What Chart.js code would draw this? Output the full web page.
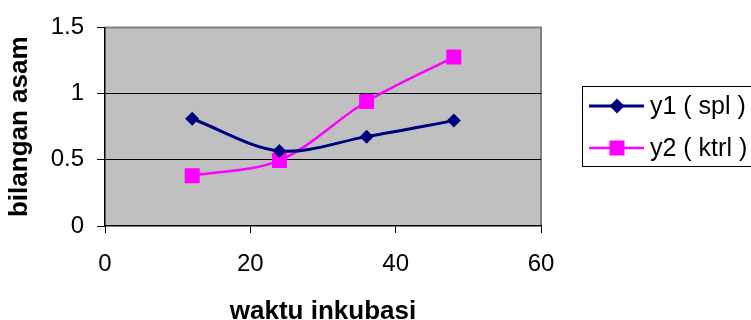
<!DOCTYPE html>
<html>
<head>
<meta charset="utf-8">
<script src="https://cdn.jsdelivr.net/npm/chart.js@4/dist/chart.umd.min.js"></script>
<style>
  html, body { margin: 0; padding: 0; background: #ffffff; }
  canvas { display: block; }
</style>
</head>
<body>
<canvas id="c" width="751" height="320"></canvas>
<script>
// Incubation time (hours) and acid number for the two samples
const waktu = [12, 24, 36, 48];
const y1Spl = [0.81, 0.567, 0.675, 0.796];
const y2Ktrl = [0.38, 0.495, 0.94, 1.276];
const seriesNames = ['y1 ( spl )', 'y2 ( ktrl )'];
const xTicks = [0, 20, 40, 60];
const yTicks = [0, 0.5, 1, 1.5];

const FONT = "'Liberation Sans', Arial, sans-serif";

const toPoints = (ys) => waktu.map((x, i) => ({ x: x, y: ys[i] }));

// Grey plot area with a darker frame on the top and right edges
const plotArea = {
  id: 'plotArea',
  beforeDraw(chart) {
    const { ctx, chartArea: a } = chart;
    ctx.save();
    ctx.fillStyle = '#c0c0c0';
    ctx.fillRect(a.left, a.top, a.right - a.left, a.bottom - a.top);
    ctx.strokeStyle = '#808080';
    ctx.lineWidth = 2;
    ctx.beginPath();
    ctx.moveTo(a.left, a.top);
    ctx.lineTo(a.right, a.top);
    ctx.lineTo(a.right, a.bottom);
    ctx.stroke();
    ctx.restore();
  }
};

// Boxed legend on the right, built from the dataset styles
const boxLegend = {
  id: 'boxLegend',
  afterDraw(chart) {
    const { ctx } = chart;
    const left = 582, top = 86, bottom = 166, right = 760;
    ctx.save();
    ctx.strokeStyle = '#000000';
    ctx.lineWidth = 1;
    ctx.strokeRect(left + 0.5, top + 0.5, right - left, bottom - top);
    const rows = [106, 148];
    chart.data.datasets.forEach((ds, i) => {
      const y = rows[i];
      ctx.strokeStyle = ds.borderColor;
      ctx.lineWidth = ds.borderWidth;
      ctx.beginPath();
      ctx.moveTo(589, y);
      ctx.lineTo(644, y);
      ctx.stroke();
      ctx.fillStyle = ds.pointBackgroundColor;
      ctx.beginPath();
      if (ds.pointStyle === 'rectRot') {
        const r = 7.5;
        ctx.moveTo(617 - r, y);
        ctx.lineTo(617, y - r);
        ctx.lineTo(617 + r, y);
        ctx.lineTo(617, y + r);
        ctx.closePath();
      } else {
        ctx.rect(617 - 7.5, y - 7.5, 15, 15);
      }
      ctx.fill();
      ctx.fillStyle = '#000000';
      ctx.font = '25px ' + FONT;
      ctx.textAlign = 'left';
      ctx.textBaseline = 'middle';
      ctx.fillText(ds.label, 650, y + 1);
    });
    ctx.restore();
  }
};

new Chart(document.getElementById('c'), {
  type: 'line',
  data: {
    datasets: [
      {
        label: seriesNames[0],
        data: toPoints(y1Spl),
        borderColor: '#000080',
        backgroundColor: '#000080',
        pointBackgroundColor: '#000080',
        pointBorderColor: '#000080',
        borderWidth: 3,
        pointStyle: 'rectRot',
        pointRadius: 7,
        pointHoverRadius: 7,
        pointBorderWidth: 0,
        tension: 0.33,
        fill: false
      },
      {
        label: seriesNames[1],
        data: toPoints(y2Ktrl),
        borderColor: '#ff00ff',
        backgroundColor: '#ff00ff',
        pointBackgroundColor: '#ff00ff',
        pointBorderColor: '#ff00ff',
        borderWidth: 2.5,
        pointStyle: 'rect',
        pointRadius: 10.6,
        pointHoverRadius: 10.6,
        pointBorderWidth: 0,
        tension: 0.33,
        fill: false
      }
    ]
  },
  options: {
    responsive: false,
    animation: false,
    events: [],
    layout: { padding: { left: 0, top: 25, right: 210, bottom: 0 } },
    plugins: {
      legend: { display: false },
      tooltip: { enabled: false }
    },
    scales: {
      x: {
        type: 'linear',
        min: 0,
        max: 60,
        afterFit(scale) { scale.height = 94; },
        afterBuildTicks(scale) { scale.ticks = xTicks.map(v => ({ value: v })); },
        ticks: {
          font: { family: FONT, size: 24 },
          color: '#000000',
          padding: 17,
          maxRotation: 0,
          callback: (v) => String(v)
        },
        grid: {
          drawOnChartArea: false,
          tickLength: 7,
          tickColor: '#000000',
          color: '#000000'
        },
        border: { color: '#000000', width: 1.5 },
        title: {
          display: true,
          text: 'waktu inkubasi',
          font: { family: FONT, size: 26, weight: 'bold' },
          color: '#000000',
          padding: { top: 0, bottom: -7 }
        }
      },
      y: {
        type: 'linear',
        min: 0,
        max: 1.5,
        afterFit(scale) { scale.width = 105; },
        afterBuildTicks(scale) { scale.ticks = yTicks.map(v => ({ value: v })); },
        ticks: {
          font: { family: FONT, size: 24 },
          color: '#000000',
          padding: 13,
          callback: (v) => String(v)
        },
        grid: {
          tickLength: 8,
          tickColor: '#000000',
          lineWidth: 1,
          color: (c) => (c.tick && c.tick.value > 0 && c.tick.value < 1.5) ? '#000000' : 'rgba(0,0,0,0)'
        },
        border: { color: '#000000', width: 1.5 },
        title: {
          display: true,
          text: 'bilangan asam',
          font: { family: FONT, size: 26, weight: 'bold' },
          color: '#000000',
          padding: { top: 4, bottom: 0 }
        }
      }
    }
  },
  plugins: [plotArea, boxLegend]
});
</script>
</body>
</html>
